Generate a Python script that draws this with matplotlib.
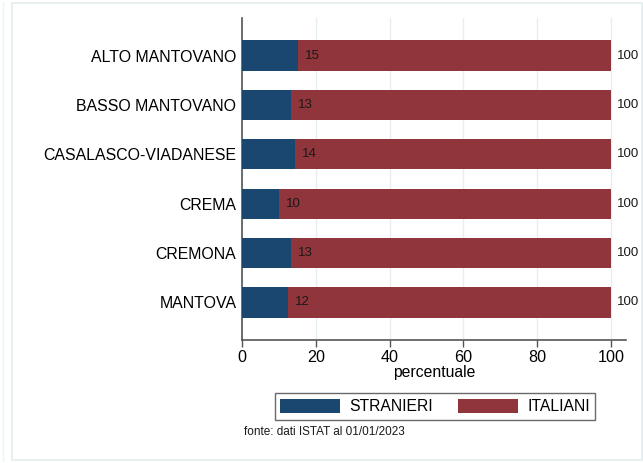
import matplotlib
matplotlib.use("Agg")
import matplotlib.pyplot as plt
from matplotlib.patches import Rectangle, Patch

categories = ["ALTO MANTOVANO", "BASSO MANTOVANO", "CASALASCO-VIADANESE",
              "CREMA", "CREMONA", "MANTOVA"]
stranieri = [15.2, 13.3, 14.3, 10.1, 13.4, 12.4]
stranieri_labels = ["15", "13", "14", "10", "13", "12"]
italiani = [100, 100, 100, 100, 100, 100]
italiani_labels = ["100"] * 6
xticks = [0, 20, 40, 60, 80, 100]

BLUE = "#1a476f"
RED = "#90353b"
FONT = "Liberation Sans"
plt.rcParams['font.family'] = [FONT, 'DejaVu Sans']

W, H = 643, 463
fig = plt.figure(figsize=(W / 100, H / 100), dpi=100)
fig.patch.set_facecolor("white")

# outer frame
fig.add_artist(Rectangle((12 / W, 3 / H), (W - 13) / W, (H - 6) / H,
                         transform=fig.transFigure, fill=False,
                         edgecolor="#e4ecef", lw=1.2))
fig.add_artist(plt.Line2D([3 / W, 3 / W], [3 / H, 1 - 3 / H],
                          transform=fig.transFigure, color="#eef3f4", lw=1))

ax = fig.add_axes([242 / W, 123 / H, 384 / W, 322 / H])
y = list(range(len(categories)))
ax.barh(y, italiani, height=0.61, color=RED, zorder=2)
ax.barh(y, stranieri, height=0.61, color=BLUE, zorder=3)

for yi, s, sl, it, il in zip(y, stranieri, stranieri_labels, italiani, italiani_labels):
    ax.annotate(sl, (s, yi), xytext=(5, 0), textcoords="offset points",
                va="center", ha="left", fontsize=9.5, color="#1a1a1a", zorder=4)
    ax.annotate(il, (it, yi), xytext=(4.5, 0), textcoords="offset points",
                va="center", ha="left", fontsize=9.5, color="#1a1a1a", zorder=4)

ax.set_xlim(0, 104.1)
ax.set_ylim(5.76, -0.76)
ax.set_yticks(y)
ax.set_yticklabels(categories, fontsize=11.4)
ax.tick_params(axis="y", length=0, pad=4)
ax.set_xticks(xticks)
ax.set_xticklabels([str(v) for v in xticks], fontsize=11.6)
ax.tick_params(axis="x", length=5, width=1, color="#555555", pad=2)
ax.set_xlabel("percentuale", fontsize=11.3, labelpad=0)
ax.grid(axis="x", color="#e6eef1", lw=1, zorder=0)
ax.set_axisbelow(True)
for side in ["top", "right"]:
    ax.spines[side].set_visible(False)
for side in ["left", "bottom"]:
    ax.spines[side].set_color("#555555")
    ax.spines[side].set_linewidth(1.2)

handles = [Patch(facecolor=BLUE, label="STRANIERI"), Patch(facecolor=RED, label="ITALIANI")]
leg = fig.legend(handles=handles, loc="center", bbox_to_anchor=(435 / W, 1 - 406.5 / H),
                 ncol=2, fontsize=11.3, frameon=True, fancybox=False,
                 handlelength=3.8, handleheight=1.0, columnspacing=1.65,
                 handletextpad=0.57, borderpad=0.35, borderaxespad=0)
leg.get_frame().set_edgecolor("#444444")
leg.get_frame().set_linewidth(1)

fig.text(244 / W, 1 - 432 / H, "fonte: dati ISTAT al 01/01/2023", fontsize=8.5,
         ha="left", va="center", color="#1a1a1a")

fig.savefig("out.png", dpi=100)
